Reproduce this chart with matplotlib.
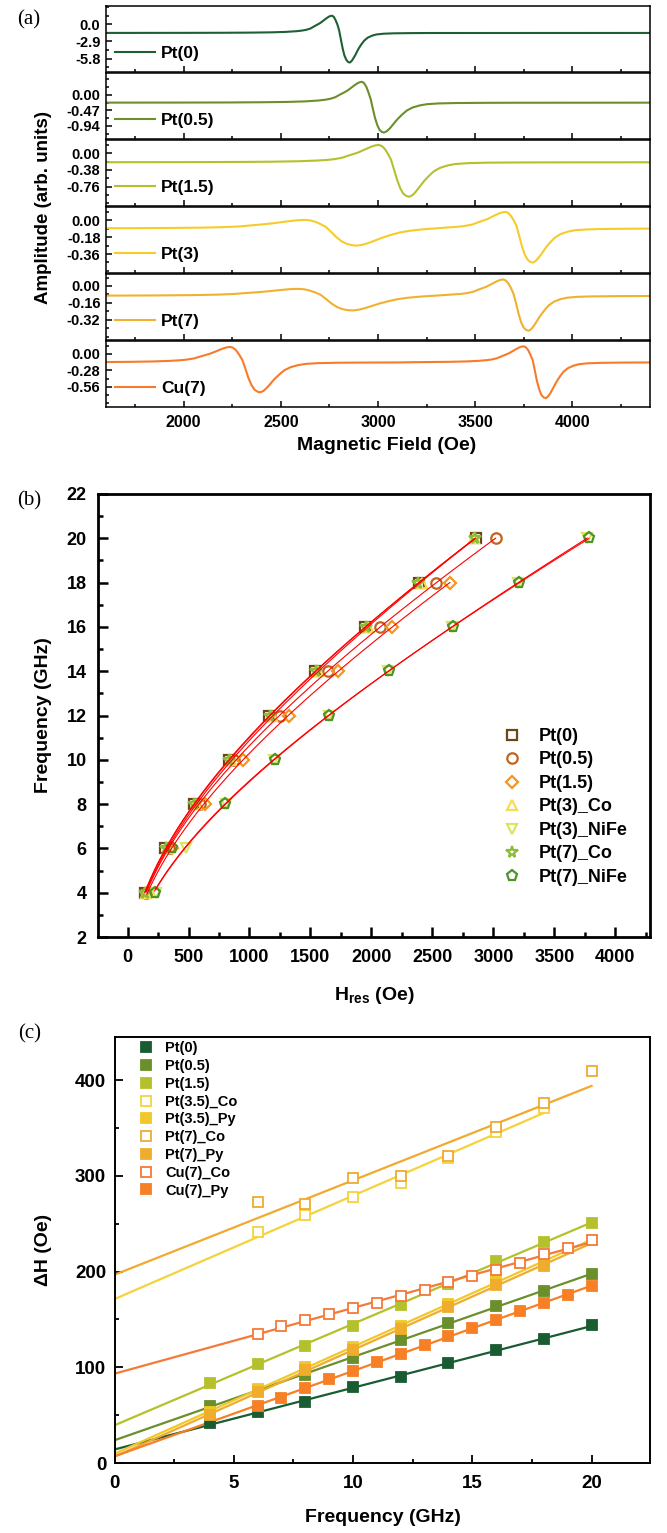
import numpy as np
import matplotlib
matplotlib.use("Agg")
import matplotlib.pyplot as plt
from matplotlib.ticker import MultipleLocator

plt.rcParams['font.family'] = ['Liberation Sans', 'DejaVu Sans']
plt.rcParams['font.weight'] = 'bold'
plt.rcParams['mathtext.fontset'] = 'custom'
plt.rcParams['mathtext.rm'] = 'Liberation Sans:bold'
plt.rcParams['mathtext.it'] = 'Liberation Sans:bold'
plt.rcParams['mathtext.bf'] = 'Liberation Sans:bold'

# ---------------- (a) FMR spectra ----------------
pt0_field = [1600, 1999, 2202, 2349, 2450, 2524, 2579, 2607, 2630, 2653, 2671, 2689, 2703, 2717, 2731,
             2745, 2754, 2763, 2772, 2781, 2791, 2800, 2809, 2818, 2827, 2837, 2846, 2855, 2864, 2873,
             2883, 2892, 2901, 2915, 2929, 2947, 2970, 2993, 3030, 3085, 3177, 3269, 4400]
pt0_amp = [-1.455, -1.445, -1.431, -1.402, -1.358, -1.285, -1.169, -1.067, -0.936, -0.703, -0.354, -0.034,
           0.228, 0.577, 0.926, 1.246, 1.392, 1.45, 1.275, 0.752, -0.034, -1.023, -2.56, -4.06, -5.26,
           -6.01, -6.36, -6.46, -6.21, -5.76, -5.21, -4.61, -4.06, -3.36, -2.76, -2.26, -1.91, -1.71,
           -1.585, -1.52, -1.485, -1.47, -1.46]

pt05_field = [1600, 1971, 2222, 2404, 2529, 2621, 2689, 2723, 2752, 2780, 2803, 2826, 2843, 2860, 2877,
              2894, 2906, 2917, 2928, 2940, 2951, 2963, 2974, 2985, 2997, 3008, 3020, 3031, 3046, 3061,
              3075, 3090, 3105, 3127, 3149, 3179, 3216, 3253, 3312, 3401, 3549, 3697, 4400]
pt05_amp = [-0.232, -0.230, -0.227, -0.220, -0.211, -0.195, -0.170, -0.148, -0.119, -0.068, 0.008, 0.077,
            0.134, 0.210, 0.286, 0.356, 0.387, 0.400, 0.362, 0.248, 0.077, -0.138, -0.433, -0.705,
            -0.922, -1.058, -1.122, -1.140, -1.095, -1.013, -0.913, -0.804, -0.705, -0.578, -0.469,
            -0.378, -0.315, -0.278, -0.256, -0.244, -0.238, -0.235, -0.233]

pt15_field = [1600, 1693, 2040, 2293, 2467, 2593, 2688, 2735, 2775, 2814, 2846, 2878, 2901, 2925, 2949,
              2972, 2988, 3004, 3020, 3036, 3051, 3067, 3083, 3099, 3115, 3130, 3146, 3162, 3178, 3194,
              3209, 3225, 3241, 3265, 3288, 3320, 3359, 3399, 3462, 3557, 3715, 3873, 4400]
pt15_amp = [-0.204, -0.203, -0.201, -0.197, -0.191, -0.181, -0.165, -0.152, -0.134, -0.102, -0.055,
            -0.011, 0.024, 0.072, 0.119, 0.162, 0.182, 0.190, 0.166, 0.095, -0.011, -0.146, -0.378,
            -0.613, -0.802, -0.919, -0.974, -0.990, -0.951, -0.880, -0.794, -0.700, -0.613, -0.503,
            -0.409, -0.331, -0.276, -0.244, -0.225, -0.214, -0.209, -0.207, -0.205]

pt3_field = [1600, 1707, 1923, 2085, 2166, 2234, 2301, 2355, 2409, 2450, 2490, 2531, 2571, 2598, 2625,
             2652, 2679, 2706, 2733, 2760, 2787, 2814, 2841, 2868, 2895, 2922, 2949, 2976, 3003, 3030,
             3071, 3111, 3165, 3233, 3300, 3415, 3450, 3486, 3514, 3542, 3564, 3585, 3606, 3628, 3642,
             3656, 3670, 3684, 3699, 3713, 3727, 3741, 3755, 3770, 3784, 3798, 3812, 3826, 3841, 3855,
             3869, 3890, 3912, 3940, 3976, 4011, 4068, 4153, 4295, 4400]
pt3_amp = [-0.087, -0.0866, -0.0843, -0.0806, -0.0773, -0.0733, -0.066, -0.0551, -0.0452, -0.037,
           -0.0262, -0.0152, -0.0053, -0.0008, 0.0012, -0.0041, -0.0202, -0.0445, -0.075, -0.1286,
           -0.1834, -0.2271, -0.2545, -0.2672, -0.2705, -0.2613, -0.2444, -0.224, -0.2019, -0.1815,
           -0.155, -0.1324, -0.1133, -0.0981, -0.088, -0.0704, -0.0618, -0.047, -0.0254, -0.0054, 0.0108,
           0.0324, 0.054, 0.0735, 0.0825, 0.0862, 0.0756, 0.0437, -0.0043, -0.0648, -0.1706, -0.2786,
           -0.365, -0.419, -0.4442, -0.4513, -0.4333, -0.4009, -0.3612, -0.318, -0.2784, -0.228, -0.1848,
           -0.1487, -0.1235, -0.109, -0.1, -0.095, -0.092, -0.091]

pt7_field = [1600, 1636, 1861, 2030, 2114, 2184, 2254, 2311, 2367, 2409, 2451, 2493, 2535, 2563, 2592,
             2620, 2648, 2676, 2704, 2732, 2760, 2788, 2816, 2844, 2873, 2901, 2929, 2957, 2985, 3013,
             3055, 3097, 3154, 3224, 3294, 3422, 3455, 3488, 3514, 3540, 3560, 3580, 3599, 3619, 3632,
             3645, 3658, 3671, 3684, 3697, 3711, 3724, 3737, 3750, 3763, 3776, 3789, 3802, 3815, 3828,
             3842, 3861, 3881, 3907, 3940, 3973, 4025, 4104, 4235, 4400]
pt7_amp = [-0.0907, -0.0905, -0.0888, -0.0861, -0.0837, -0.0808, -0.0755, -0.0676, -0.0604, -0.0545,
           -0.0467, -0.0388, -0.0315, -0.0283, -0.027, -0.0308, -0.0425, -0.0599, -0.0819, -0.1222,
           -0.1638, -0.197, -0.2178, -0.2274, -0.2303, -0.2231, -0.2105, -0.195, -0.1781, -0.1625,
           -0.1427, -0.1254, -0.1105, -0.0991, -0.0911, -0.0752, -0.0679, -0.0552, -0.0363, -0.019,
           -0.0048, 0.014, 0.0329, 0.0501, 0.058, 0.0612, 0.0519, 0.024, -0.0182, -0.0711, -0.1664,
           -0.2645, -0.343, -0.392, -0.415, -0.4214, -0.405, -0.3756, -0.3397, -0.3004, -0.2644, -0.2186,
           -0.1793, -0.1465, -0.1236, -0.1105, -0.1021, -0.0978, -0.0955, -0.094]

cu7_field = [1600, 1713, 1837, 1930, 1977, 2015, 2054, 2085, 2116, 2139, 2163, 2186, 2209, 2225, 2240,
             2255, 2271, 2286, 2302, 2318, 2333, 2349, 2364, 2380, 2395, 2411, 2426, 2442, 2457, 2473,
             2496, 2519, 2550, 2589, 2628, 2690, 2783, 2938, 3093, 3237, 3362, 3454, 3522, 3556, 3585,
             3613, 3636, 3659, 3676, 3693, 3710, 3727, 3739, 3750, 3761, 3773, 3784, 3796, 3807, 3818,
             3830, 3841, 3853, 3864, 3875, 3887, 3898, 3910, 3921, 3938, 3955, 3978, 4007, 4035, 4081,
             4149, 4263, 4400]
cu7_amp = [-0.137, -0.1338, -0.1273, -0.1168, -0.1076, -0.0958, -0.0749, -0.0434, -0.0146, 0.009, 0.0404,
           0.0718, 0.1007, 0.1138, 0.119, 0.1033, 0.0561, -0.0146, -0.1037, -0.2545, -0.4066, -0.5283,
           -0.6044, -0.6399, -0.65, -0.6247, -0.579, -0.5233, -0.4624, -0.4066, -0.3357, -0.2748,
           -0.2241, -0.1886, -0.1684, -0.1557, -0.1491, -0.1455, -0.144, -0.1375, -0.1334, -0.1266,
           -0.1157, -0.1061, -0.0939, -0.072, -0.0393, -0.0092, 0.0153, 0.0481, 0.0809, 0.1109, 0.1245,
           0.13, 0.1136, 0.0645, -0.0092, -0.102, -0.2765, -0.4586, -0.6043, -0.6954, -0.7379, -0.75,
           -0.7197, -0.665, -0.5983, -0.5254, -0.4586, -0.3737, -0.3008, -0.2401, -0.1976, -0.1734,
           -0.1582, -0.1503, -0.146, -0.144]

amp_names = ['Pt(0)', 'Pt(0.5)', 'Pt(1.5)', 'Pt(3)', 'Pt(7)', 'Cu(7)']
amp_fields = [pt0_field, pt05_field, pt15_field, pt3_field, pt7_field, cu7_field]
amp_values = [pt0_amp, pt05_amp, pt15_amp, pt3_amp, pt7_amp, cu7_amp]
amp_colors = ['#1e5f33', '#6b8f2b', '#b4c12c', '#f5cc2a', '#f0b030', '#f77b2a']
amp_step = [2.9, 0.47, 0.38, 0.18, 0.16, 0.28]
amp_ticklabels = [['0.0', '-2.9', '-5.8'], ['0.00', '-0.47', '-0.94'], ['0.00', '-0.38', '-0.76'],
                  ['0.00', '-0.18', '-0.36'], ['0.00', '-0.16', '-0.32'], ['0.00', '-0.28', '-0.56']]
amp_ylim = [(-7.97, 3.09), (-1.32, 0.667), (-1.19, 0.303), (-0.556, 0.138), (-0.504, 0.113), (-0.891, 0.22)]

# ---------------- (b) resonance field vs frequency ----------------
freq_b = [4, 6, 8, 10, 12, 14, 16, 18, 20]
hres_pt0 = [140, 310, 545, 830, 1163, 1541, 1951, 2389, 2855]
hres_pt05 = [155, 340, 590, 876, 1250, 1646, 2074, 2529, 3019]
hres_pt15 = [159, 365, 631, 946, 1320, 1723, 2172, 2644]
hres_pt3co = [150, 330, 565, 850, 1185, 1565, 1975, 2415, 2840]
hres_pt3nife = [230, 478, 805, 1200, 1650, 2140, 2660, 3200, 3770]
hres_pt7co = [145, 318, 548, 835, 1170, 1548, 1955, 2385, 2850]
hres_pt7nife = [221, 364, 801, 1208, 1653, 2144, 2669, 3212, 3783]

b_names = ['Pt(0)', 'Pt(0.5)', 'Pt(1.5)', 'Pt(3)_Co', 'Pt(3)_NiFe', 'Pt(7)_Co', 'Pt(7)_NiFe']
b_hres = [hres_pt0, hres_pt05, hres_pt15, hres_pt3co, hres_pt3nife, hres_pt7co, hres_pt7nife]
b_markers = ['s', 'o', 'D', '^', 'v', '*', 'p']
b_sizes = [7, 7.5, 6.5, 7.5, 7.5, 8.5, 8]
b_colors = ['#6e4518', '#c0641e', '#f5961e', '#f8dc50', '#dce464', '#8cbc3c', '#4c9428']

# ---------------- (c) linewidth vs frequency ----------------
freq_even = [4, 6, 8, 10, 12, 14, 16, 18, 20]
dh_pt0 = [41.6, 53.7, 63.2, 79.3, 89.4, 104.4, 117.6, 129.8, 144.5]
dh_pt05 = [59.7, 76, 91.8, 109.6, 128.8, 146.3, 163.7, 179.4, 197.9]
dh_pt15 = [84, 103.4, 122.5, 143.5, 165.4, 187, 211, 231, 251]
freq_pt35co = [6, 8, 10, 12, 14, 16, 18]
dh_pt35co = [241, 259, 278, 292, 319, 346, 371]
freq_py = [4, 6, 8, 10, 12, 14, 16, 18]
dh_pt35py = [53.7, 77, 100, 121, 143, 166.5, 191, 209]
dh_pt7py = [50, 74, 97, 118, 139.6, 163, 186.4, 206]
freq_pt7co = [6, 8, 10, 12, 14, 16, 18, 20]
dh_pt7co = [273, 271, 298, 300, 321, 351, 376, 409]
freq_cu = [6, 7, 8, 9, 10, 11, 12, 13, 14, 15, 16, 17, 18, 19, 20]
dh_cu7co = [135, 143.5, 149, 156, 162, 167, 174.6, 181, 188.6, 195, 202, 209, 218.6, 225, 232.8]
dh_cu7py = [59.7, 68.4, 78.2, 87.6, 96.6, 106, 114, 123.6, 132.3, 141, 149.7, 158.4, 167.2, 176, 184.6]

c_names = ['Pt(0)', 'Pt(0.5)', 'Pt(1.5)', 'Pt(3.5)_Co', 'Pt(3.5)_Py', 'Pt(7)_Co', 'Pt(7)_Py',
           'Cu(7)_Co', 'Cu(7)_Py']
c_freq = [freq_even, freq_even, freq_even, freq_pt35co, freq_py, freq_pt7co, freq_py, freq_cu, freq_cu]
c_dh = [dh_pt0, dh_pt05, dh_pt15, dh_pt35co, dh_pt35py, dh_pt7co, dh_pt7py, dh_cu7co, dh_cu7py]
c_filled = [True, True, True, False, True, False, True, False, True]
c_fit_end = [20, 20, 20, 18, 20, 20, 20, 20, 20]
c_colors = ['#1a5c32', '#6b8f2b', '#b4c12c', '#f5d23c', '#f0c82a', '#f0aa30', '#f0ac2c', '#f57a38', '#f77f25']

W, H = 667.0, 1533.0


def rect(l, t, r, b):
    return [l / W, 1 - b / H, (r - l) / W, (b - t) / H]


fig = plt.figure(figsize=(W / 100, H / 100), dpi=100)

# ---- panel (a)
for i in range(6):
    top = 6 + 67 * i
    ax = fig.add_axes(rect(106, top, 650, top + 65.5))
    ax.plot(amp_fields[i], amp_values[i], color=amp_colors[i], lw=1.5, label=amp_names[i])
    ax.set_xlim(1600, 4400)
    ax.set_ylim(*amp_ylim[i])
    s = amp_step[i]
    ax.set_yticks([0, -s, -2 * s], labels=amp_ticklabels[i])
    ax.yaxis.set_minor_locator(MultipleLocator(s / 2))
    ax.xaxis.set_major_locator(MultipleLocator(500))
    ax.xaxis.set_minor_locator(MultipleLocator(250))
    ax.tick_params(which='both', direction='in', top=False, right=False, width=1.1)
    ax.tick_params(which='major', length=4)
    ax.tick_params(which='minor', length=2.3)
    ax.tick_params(axis='y', labelsize=10.5, pad=4)
    ax.tick_params(axis='x', labelsize=11.5, pad=6)
    if i < 5:
        ax.tick_params(axis='x', labelbottom=False)
    for sp in ax.spines.values():
        sp.set_linewidth(1.1)
    ax.legend(loc='center left', bbox_to_anchor=(0.0165, 0.28), frameon=False, borderpad=0,
              borderaxespad=0, handlelength=2.3, handletextpad=0.36, fontsize=12.5)

fig.text(44 / W, 1 - 207 / H, 'Amplitude (arb. units)', rotation=90, fontsize=13.5, ha='center', va='center')
fig.text(387 / W, 1 - 445 / H, 'Magnetic Field (Oe)', fontsize=14, ha='center', va='center')
fig.text(29 / W, 1 - 20 / H, '(a)', family='Liberation Serif', weight='normal', fontsize=15,
         ha='center', va='center')

# ---- panel (b)
axb = fig.add_axes(rect(97.7, 494, 650, 937))
for name, hr, m, ms, c in zip(b_names, b_hres, b_markers, b_sizes, b_colors):
    h = np.array(hr, float)
    f = np.array(freq_b[:len(hr)], float)
    coef = np.linalg.lstsq(np.column_stack([h ** 2, h]), f ** 2, rcond=None)[0]
    hh = np.linspace(h.min(), h.max(), 200)
    axb.plot(h, f, ls='none', marker=m, ms=ms, mfc='none', mec=c, mew=1.6, label=name, zorder=2)
    axb.plot(hh, np.sqrt(coef[0] * hh ** 2 + coef[1] * hh), color='red', lw=0.8, zorder=3)
axb.set_xlim(-245, 4285)
axb.set_ylim(2, 22)
axb.xaxis.set_major_locator(MultipleLocator(500))
axb.xaxis.set_minor_locator(MultipleLocator(250))
axb.yaxis.set_major_locator(MultipleLocator(2))
axb.yaxis.set_minor_locator(MultipleLocator(1))
axb.tick_params(which='both', direction='in', top=False, right=False, width=1.8, labelsize=13)
axb.tick_params(which='major', length=7)
axb.tick_params(which='minor', length=3.5)
axb.tick_params(axis='y', pad=8)
axb.tick_params(axis='x', pad=9)
for sp in axb.spines.values():
    sp.set_linewidth(2)
axb.legend(loc='upper left', bbox_to_anchor=(0.734, 0.472), frameon=False, borderpad=0, borderaxespad=0,
           handlelength=1.0, handletextpad=0.95, labelspacing=0.36, fontsize=13, numpoints=1)
fig.text(43 / W, 1 - 715 / H, 'Frequency (GHz)', rotation=90, fontsize=14, ha='center', va='center')
fig.text(374 / W, 1 - 995 / H, r'$\mathrm{H}_{\mathrm{res}}$ (Oe)', fontsize=14, ha='center', va='center')
fig.text(29 / W, 1 - 501 / H, '(b)', family='Liberation Serif', weight='normal', fontsize=15,
         ha='center', va='center')

# ---- panel (c)
axc = fig.add_axes(rect(114.5, 1037, 650, 1463))
for name, fq, dh, fill, end, c in zip(c_names, c_freq, c_dh, c_filled, c_fit_end, c_colors):
    x = np.array(fq, float)
    y = np.array(dh, float)
    k, b0 = np.polyfit(x, y, 1)
    xx = np.array([0.0, end])
    axc.plot(xx, k * xx + b0, color=c, lw=1.6, zorder=2)
    axc.plot(x, y, ls='none', marker='s', ms=6.8, mfc=c if fill else 'white', mec=c, mew=1.3,
             label=name, zorder=3)
axc.set_xlim(0, 22.45)
axc.set_ylim(0, 445)
axc.xaxis.set_major_locator(MultipleLocator(5))
axc.xaxis.set_minor_locator(MultipleLocator(2.5))
axc.yaxis.set_major_locator(MultipleLocator(100))
axc.yaxis.set_minor_locator(MultipleLocator(50))
axc.tick_params(which='both', direction='in', top=False, right=False, width=1.3, labelsize=13.5)
axc.tick_params(which='major', length=6)
axc.tick_params(which='minor', length=2.8)
axc.tick_params(axis='y', pad=6)
axc.tick_params(axis='x', pad=9)
for sp in axc.spines.values():
    sp.set_linewidth(1.4)
axc.legend(loc='upper left', bbox_to_anchor=(0.047, 0.99), frameon=False, borderpad=0, borderaxespad=0,
           handlelength=0.8, handletextpad=0.95, labelspacing=0.26, fontsize=10.5, numpoints=1)
fig.text(44 / W, 1 - 1250 / H, '\u0394H (Oe)', rotation=90, fontsize=14, ha='center', va='center')
fig.text(383 / W, 1 - 1518 / H, 'Frequency (GHz)', fontsize=14, ha='center', va='center')
fig.text(30 / W, 1 - 1034 / H, '(c)', family='Liberation Serif', weight='normal', fontsize=15,
         ha='center', va='center')

fig.savefig('out.png', dpi=100)
